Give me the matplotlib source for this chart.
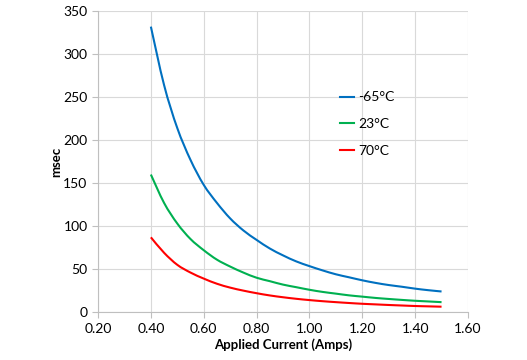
import matplotlib.pyplot as plt
from matplotlib.path import Path
from matplotlib.patches import PathPatch
from matplotlib.lines import Line2D

plt.rcParams['font.family'] = ['Lato', 'DejaVu Sans']

# Applied current (Amps) and response time (msec)
current = [0.40, 0.45, 0.50, 0.55, 0.60, 0.65, 0.70, 0.75, 0.80, 0.85, 0.90, 0.95,
           1.00, 1.05, 1.10, 1.15, 1.20, 1.25, 1.30, 1.35, 1.40, 1.45, 1.50]
t_minus65 = [332, 264, 214, 177, 148, 127, 109, 95, 84, 74, 66, 59,
             53.5, 48.5, 44, 40.5, 37, 34, 31.5, 29.5, 27.3, 25.5, 24]
t_23 = [160, 127, 103, 85, 72, 61, 53, 46, 40, 36, 32, 29,
        26, 23.5, 21.5, 19.5, 18, 16.5, 15.3, 14.2, 13.2, 12.4, 11.6]
t_70 = [87, 69, 55, 46, 39, 33, 28.5, 25, 22, 19.4, 17.3, 15.5,
        14, 12.7, 11.6, 10.6, 9.7, 9, 8.3, 7.7, 7.1, 6.7, 6.3]

series = [("-65°C", t_minus65, "#0070C0"),
          ("23°C", t_23, "#00B050"),
          ("70°C", t_70, "#FF0000")]


def smooth_path(xs, ys):
    # Excel-style smoothed line: Catmull-Rom segments as cubic Beziers
    pts = list(zip(xs, ys))
    verts = [pts[0]]
    codes = [Path.MOVETO]
    n = len(pts)
    for i in range(n - 1):
        p0 = pts[i - 1] if i > 0 else pts[i]
        p1 = pts[i]
        p2 = pts[i + 1]
        p3 = pts[i + 2] if i + 2 < n else pts[i + 1]
        c1 = (p1[0] + (p2[0] - p0[0]) / 6, p1[1] + (p2[1] - p0[1]) / 6)
        c2 = (p2[0] - (p3[0] - p1[0]) / 6, p2[1] - (p3[1] - p1[1]) / 6)
        verts += [c1, c2, p2]
        codes += [Path.CURVE4] * 3
    return Path(verts, codes)


fig = plt.figure(figsize=(5.27, 3.6), dpi=100)
ax = fig.add_axes([0.186, 0.133, 0.702, 0.836])

handles = []
for label, vals, color in series:
    ax.add_patch(PathPatch(smooth_path(current, vals), fill=False,
                           edgecolor=color, lw=1.5, capstyle="butt"))
    handles.append(Line2D([], [], color=color, lw=1.5, label=label))

ax.set_xlim(0.20, 1.60)
ax.set_ylim(0, 350)
ax.set_xticks([0.20, 0.40, 0.60, 0.80, 1.00, 1.20, 1.40, 1.60])
ax.set_xticklabels([f"{v:.2f}" for v in ax.get_xticks()])
ax.set_yticks(range(0, 351, 50))
ax.grid(True, color="#d9d9d9", lw=0.8)
ax.set_axisbelow(True)

for side in ["top", "right"]:
    ax.spines[side].set_visible(False)
for side in ["left", "bottom"]:
    ax.spines[side].set_color("#bfbfbf")
ax.tick_params(colors="#bfbfbf", labelcolor="black", labelsize=10, length=4)

ax.set_xlabel("Applied Current (Amps)", fontsize=9.5, fontweight="bold", labelpad=3)
ax.set_ylabel("msec", fontsize=9.5, fontweight="bold", labelpad=1)

ax.legend(handles=handles, loc="upper left", bbox_to_anchor=(0.62, 0.775),
          frameon=False, fontsize=10, handlelength=1.0, handletextpad=0.3,
          labelspacing=1.05)

fig.savefig("out.png", dpi=100)
